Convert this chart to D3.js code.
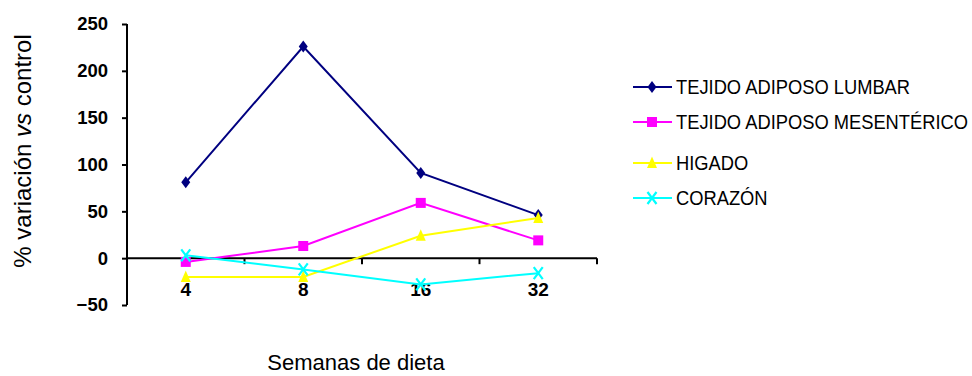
<!DOCTYPE html>
<html>
<head>
<meta charset="utf-8">
<script src="https://cdn.jsdelivr.net/npm/d3@7"></script>
<style>
  body { margin: 0; background: #fff; }
  text { font-family: "Liberation Sans", Arial, sans-serif; }
</style>
</head>
<body>
<svg id="chart" width="972" height="376"></svg>
<script>
const categories = ["4", "8", "16", "32"];
const seriesNames = ["TEJIDO ADIPOSO LUMBAR", "TEJIDO ADIPOSO MESENTÉRICO", "HIGADO", "CORAZÓN"];
const lumbar = [81, 226, 91, 46];
const mesenterico = [-4, 13, 59, 19];
const higado = [-20, -20, 24, 43];
const corazon = [3, -12, -28, -16];
const yTicks = [-50, 0, 50, 100, 150, 200, 250];
const colors = ["#000080", "#FF00FF", "#FFFF00", "#00FFFF"];
const markers = ["diamond", "square", "triangle", "x"];
const seriesValues = [lumbar, mesenterico, higado, corazon];

const svg = d3.select("#chart");
const x = d3.scaleBand().domain(categories).range([127, 597]);
const y = d3.scaleLinear().domain([-50, 250]).range([305, 24]);

// Y axis
const yAxis = svg.append("g")
  .attr("transform", "translate(127,0)")
  .call(d3.axisLeft(y).tickValues(yTicks).tickSize(5).tickPadding(14).tickFormat(d3.format("d")));
yAxis.select(".domain").attr("stroke", "#000").attr("stroke-width", 2).attr("d", `M0,${y(-50)}V${y(250)}`);
yAxis.selectAll(".tick line").attr("stroke", "#000").attr("stroke-width", 2);
yAxis.selectAll(".tick text").attr("font-size", 18.5).attr("font-weight", "bold").attr("fill", "#000")
  .attr("font-family", "Liberation Sans, Arial, sans-serif");

// X axis at y=0
const xAxis = svg.append("g")
  .attr("transform", `translate(0,${y(0)})`)
  .call(d3.axisBottom(x).tickSize(0).tickPadding(24));
xAxis.select(".domain").attr("stroke", "#000").attr("stroke-width", 2).attr("d", `M${x.range()[0]},0H${x.range()[1]}`);
xAxis.selectAll(".tick text").attr("font-size", 19).attr("font-weight", "bold").attr("fill", "#000")
  .attr("font-family", "Liberation Sans, Arial, sans-serif");
xAxis.selectAll(".boundary")
  .data(categories)
  .enter().append("line")
  .attr("x1", d => x(d) + x.bandwidth()).attr("x2", d => x(d) + x.bandwidth())
  .attr("y1", 0).attr("y2", 6)
  .attr("stroke", "#000").attr("stroke-width", 2);

// marker drawing
function drawMarker(g, type, color, cx, cy) {
  if (type === "diamond") {
    g.append("path").attr("d", `M${cx},${cy-6}L${cx+4.5},${cy}L${cx},${cy+6}L${cx-4.5},${cy}Z`).attr("fill", color);
  } else if (type === "square") {
    g.append("rect").attr("x", cx-5).attr("y", cy-5).attr("width", 10).attr("height", 10).attr("fill", color);
  } else if (type === "triangle") {
    g.append("path").attr("d", `M${cx},${cy-6.5}L${cx+5},${cy+5}L${cx-5},${cy+5}Z`).attr("fill", color);
  } else if (type === "x") {
    g.append("path").attr("d", `M${cx-4.5},${cy-6}L${cx+4.5},${cy+6}M${cx+4.5},${cy-6}L${cx-4.5},${cy+6}`)
      .attr("stroke", color).attr("stroke-width", 2.2).attr("fill", "none");
  }
}

const line = d3.line()
  .x((d, i) => x(categories[i]) + x.bandwidth() / 2)
  .y(d => y(d));

seriesValues.forEach((vals, si) => {
  const g = svg.append("g");
  g.append("path").datum(vals).attr("d", line)
    .attr("fill", "none").attr("stroke", colors[si]).attr("stroke-width", 2);
  vals.forEach((v, i) => drawMarker(g, markers[si], colors[si], x(categories[i]) + x.bandwidth() / 2, y(v)));
});

// Legend
const legendY = [87, 122, 163, 198];
const lg = svg.append("g");
seriesNames.forEach((name, i) => {
  const cy = legendY[i];
  lg.append("line").attr("x1", 633).attr("x2", 672).attr("y1", cy).attr("y2", cy)
    .attr("stroke", colors[i]).attr("stroke-width", 2);
  drawMarker(lg, markers[i], colors[i], 652, cy);
  lg.append("text").attr("transform", `translate(676,${cy + 7}) scale(0.94,1)`)
    .attr("font-size", 19.5).attr("fill", "#000").text(name);
});

// Axis titles
svg.append("text").attr("x", 356).attr("y", 370).attr("text-anchor", "middle")
  .attr("font-size", 22).attr("fill", "#000").text("Semanas de dieta");

const yt = svg.append("text")
  .attr("transform", "translate(31,151) rotate(-90)")
  .attr("text-anchor", "middle").attr("font-size", 24).attr("fill", "#000");
yt.append("tspan").text("% variación ");
yt.append("tspan").attr("font-style", "italic").text("vs");
yt.append("tspan").text(" control");
</script>
</body>
</html>
